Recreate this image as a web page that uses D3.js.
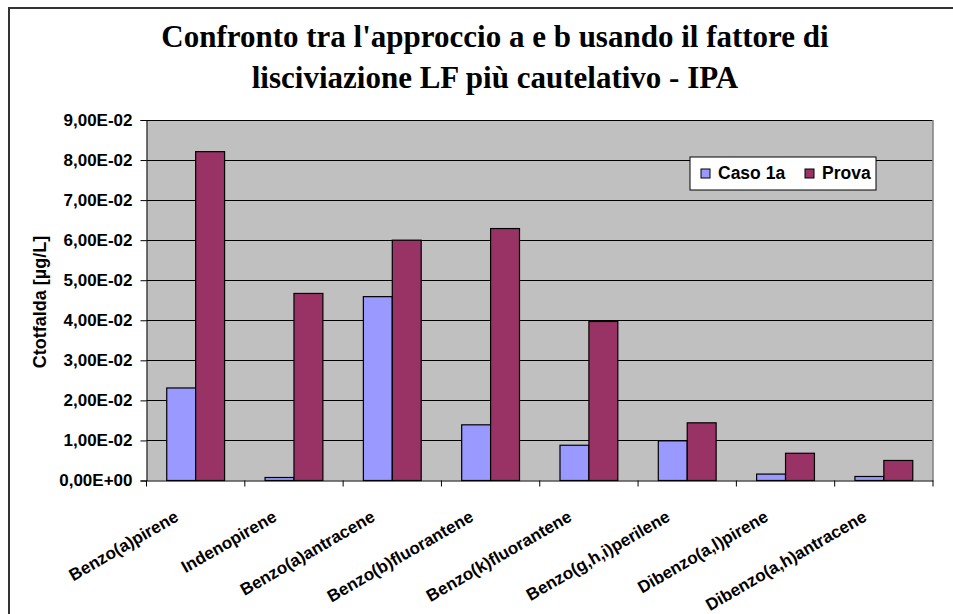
<!DOCTYPE html>
<html>
<head>
<meta charset="utf-8">
<script src="https://cdn.jsdelivr.net/npm/d3@7"></script>
<style>
  html, body { margin: 0; padding: 0; background: #fff; }
  svg { display: block; }
  text { font-family: Arial, "Liberation Sans", sans-serif; }
</style>
</head>
<body>
<svg id="chart" width="953" height="614"></svg>
<script>
// IPA leaching concentrations per compound, two scenarios
const categories = [
  "Benzo(a)pirene", "Indenopirene", "Benzo(a)antracene", "Benzo(b)fluorantene",
  "Benzo(k)fluorantene", "Benzo(g,h,i)perilene", "Dibenzo(a,l)pirene", "Dibenzo(a,h)antracene"
];
const seriesNames = ["Caso 1a", "Prova"];
const caso1a = [0.0231, 0.00075, 0.0459, 0.0139, 0.0088, 0.0099, 0.0016, 0.0010];
const prova  = [0.0821, 0.0467, 0.0600, 0.0629, 0.0397, 0.0144, 0.0068, 0.0050];
const yTicks = [0, 0.01, 0.02, 0.03, 0.04, 0.05, 0.06, 0.07, 0.08, 0.09];
const colors = ["#9999FF", "#993366"];
const titleLines = [
  "Confronto tra l'approccio a e b usando il fattore di",
  "lisciviazione LF più cautelativo - IPA"
];
const yTitle = "Ctotfalda [µg/L]";

const svg = d3.select("#chart");
const plot = { left: 146.5, right: 933, top: 120, bottom: 480.5 };

// outer chart frame
svg.append("rect")
  .attr("x", 9).attr("y", 8).attr("width", 960).attr("height", 620)
  .attr("fill", "#fff").attr("stroke", "#333").attr("stroke-width", 2);

// title
svg.append("g").selectAll("text").data(titleLines).join("text")
  .attr("x", 495).attr("y", (d, i) => 47 + i * 41)
  .attr("text-anchor", "middle")
  .style("font-family", "'Liberation Serif', 'Times New Roman', serif")
  .style("font-weight", "bold").style("font-size", "31px")
  .attr("fill", "#000")
  .text(d => d);

const x = d3.scaleBand().domain(categories).range([plot.left, plot.right]).padding(0);
const xs = d3.scaleBand().domain(seriesNames).range([0, x.bandwidth()]).paddingInner(0).paddingOuter(0.7);
const y = d3.scaleLinear().domain([0, 0.09]).range([plot.bottom, plot.top]);

// plot background
svg.append("rect")
  .attr("x", plot.left).attr("y", plot.top)
  .attr("width", plot.right - plot.left).attr("height", plot.bottom - plot.top)
  .attr("fill", "#C0C0C0");

// horizontal gridlines
svg.append("g").selectAll("line").data(yTicks.slice(1)).join("line")
  .attr("x1", plot.left).attr("x2", plot.right)
  .attr("y1", d => Math.round(y(d)) + 0.5).attr("y2", d => Math.round(y(d)) + 0.5)
  .attr("stroke", "#000").attr("stroke-width", 1);

// right border of plot area
svg.append("line")
  .attr("x1", plot.right).attr("x2", plot.right)
  .attr("y1", plot.top).attr("y2", plot.bottom)
  .attr("stroke", "#808080").attr("stroke-width", 1.5);

// bars
const rows = categories.map((c, i) => ({ cat: c, vals: [caso1a[i], prova[i]] }));
const groups = svg.append("g").selectAll("g").data(rows).join("g")
  .attr("transform", d => `translate(${x(d.cat)},0)`);
groups.selectAll("rect").data(d => d.vals.map((v, j) => ({ v, s: seriesNames[j], j })))
  .join("rect")
  .attr("x", d => xs(d.s)).attr("width", xs.bandwidth())
  .attr("y", d => y(d.v)).attr("height", d => y(0) - y(d.v))
  .attr("fill", d => colors[d.j]).attr("stroke", "#000").attr("stroke-width", 1.2);

// y axis
const fmt = v => {
  if (v === 0) return "0,00E+00";
  const e = Math.floor(Math.log10(v) + 1e-9);
  const m = v / Math.pow(10, e);
  const es = (e < 0 ? "-" : "+") + String(Math.abs(e)).padStart(2, "0");
  return m.toFixed(2).replace(".", ",") + "E" + es;
};
const yAxis = svg.append("g").attr("transform", `translate(${plot.left},0)`)
  .call(d3.axisLeft(y).tickValues(yTicks).tickFormat(fmt).tickSize(6).tickPadding(8));
yAxis.select(".domain").attr("stroke", "#000");
yAxis.selectAll(".tick line").attr("stroke", "#000");
yAxis.selectAll(".tick text")
  .style("font-size", "17px").style("font-weight", "bold").attr("fill", "#000");

// x axis
const xAxis = svg.append("g").attr("transform", `translate(0,${plot.bottom})`)
  .call(d3.axisBottom(x).tickSize(0).tickFormat(""));
xAxis.select(".domain").attr("stroke", "#000");
xAxis.selectAll(".tick").remove();
xAxis.append("g").selectAll("line").data(d3.range(categories.length + 1)).join("line")
  .attr("x1", i => plot.left + i * x.step()).attr("x2", i => plot.left + i * x.step())
  .attr("y1", 0).attr("y2", 6).attr("stroke", "#000");

// rotated category labels
svg.append("g").selectAll("text").data(categories).join("text")
  .attr("transform", d => `translate(${x(d) + x.bandwidth() / 2 - 16},520) rotate(-30)`)
  .attr("text-anchor", "end")
  .style("font-size", "17px").style("font-weight", "bold").attr("fill", "#000")
  .text(d => d);

// y axis title
svg.append("text")
  .attr("transform", `translate(46,302) rotate(-90)`)
  .attr("text-anchor", "middle")
  .style("font-size", "18px").style("font-weight", "bold").attr("fill", "#000")
  .text(yTitle);

// legend
const lg = svg.append("g").attr("transform", "translate(690,157)");
lg.append("rect").attr("width", 186).attr("height", 33)
  .attr("fill", "#fff").attr("stroke", "#000").attr("stroke-width", 1);
const items = lg.selectAll("g").data(seriesNames).join("g")
  .attr("transform", (d, i) => `translate(${[11, 115][i]},0)`);
items.append("rect").attr("y", 12).attr("width", 9).attr("height", 9)
  .attr("fill", (d, i) => colors[i]).attr("stroke", "#000").attr("stroke-width", 1);
items.append("text").attr("x", 17).attr("y", 22)
  .style("font-size", "17.5px").style("font-weight", "bold").attr("fill", "#000")
  .text(d => d);
</script>
</body>
</html>
